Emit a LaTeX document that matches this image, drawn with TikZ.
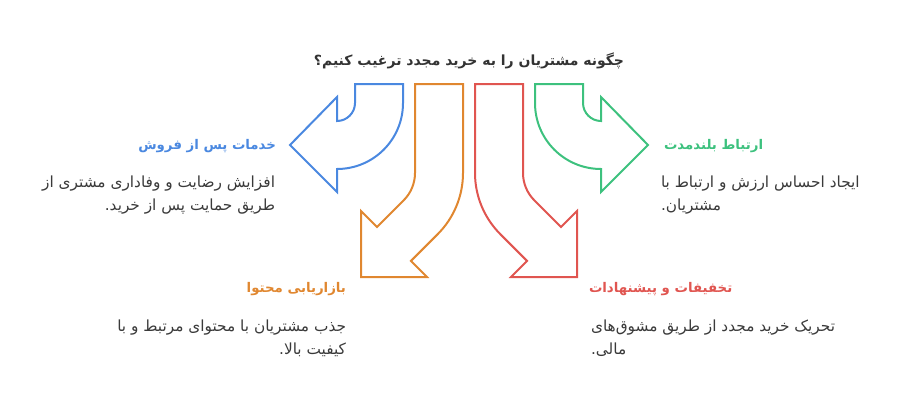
\documentclass[tikz,border=0pt]{standalone}
\usepackage{fontspec}
\usepackage{xcolor}
\usepackage{tikz}
\TeXXeTstate=1
\newfontfamily\farsi[Script=Arabic]{DejaVu Sans}
\definecolor{cblue}{RGB}{74,136,224}
\definecolor{corange}{RGB}{224,135,48}
\definecolor{cred}{RGB}{224,85,80}
\definecolor{cgreen}{RGB}{61,193,126}
\definecolor{ctext}{RGB}{58,58,58}

\begin{document}
\begin{tikzpicture}[
    x = 0.75pt, y = -0.75pt, line width = 1.5pt,
    hd/.style ={font = \farsi\bfseries\fontsize{10}{12}\selectfont, inner sep = 0pt},
    bd/.style ={font = \farsi\fontsize{11.5}{17.5}\selectfont, text = ctext, inner sep = 0pt}
    ]
\useasboundingbox (0, 0) rectangle (902, 410);

% title
\node (T) at (469, 61) [hd, text = black!80, font = \farsi\bfseries\fontsize{10.5}{12}\selectfont]
    {\beginR چگونه مشتریان را به خرید مجدد ترغیب کنیم؟\endR};

% arrows
\draw [cblue] (355, 84) -- (403, 84) -- (403, 103)
    .. controls (403, 139.5) and (373.5, 169) .. (337, 169) -- (337, 192) -- (290, 145)
    -- (337, 97) -- (337, 121) .. controls (346.9, 121) and (355, 112.9) .. (355, 103) -- cycle;
\draw [cgreen] (583, 84) -- (535, 84) -- (535, 103)
    .. controls (535, 139.5) and (564.5, 169) .. (601, 169) -- (601, 192) -- (648, 145)
    -- (601, 97) -- (601, 121) .. controls (591.1, 121) and (583, 112.9) .. (583, 103) -- cycle;
\draw [corange] (415, 84) -- (415, 173)
    .. controls (415, 183.24) and (410.94, 193.06) .. (403.69, 200.29) -- (376.99, 226.99)
    -- (361, 211) -- (361, 277) -- (427, 277) -- (410.93, 260.93) -- (437.63, 234.23)
    .. controls (453.87, 217.99) and (463, 195.97) .. (463, 173) -- (463, 84) -- cycle;
\draw [cred] (523, 84) -- (523, 173)
    .. controls (523, 183.24) and (527.06, 193.06) .. (534.31, 200.29) -- (561.01, 226.99)
    -- (577, 211) -- (577, 277) -- (511, 277) -- (527.07, 260.93) -- (500.37, 234.23)
    .. controls (484.13, 217.99) and (475, 195.97) .. (475, 173) -- (475, 84) -- cycle;

% headings
\node (BH) at (277, 146) [hd, anchor = east, text = cblue]   {\beginR خدمات پس از فروش\endR};
\node (GH) at (663, 146) [hd, anchor = west, text = cgreen]  {\beginR ارتباط بلندمدت\endR};
\node (OH) at (347, 289) [hd, anchor = east, text = corange] {\beginR بازاریابی محتوا\endR};
\node (RH) at (588, 289) [hd, anchor = west, text = cred]    {\beginR تخفیفات و پیشنهادات\endR};

% texts
\node (BB) at (276, 175) [bd, anchor = north east, align = right]
    {\beginR افزایش رضایت و وفاداری مشتری از\endR\\\beginR طریق حمایت پس از خرید.\endR};
\node (GB) at (660, 175) [bd, anchor = north west, align = left]
    {\beginR ایجاد احساس ارزش و ارتباط با\endR\\\beginR مشتریان.\endR};
\node (OB) at (347, 319) [bd, anchor = north east, align = right]
    {\beginR جذب مشتریان با محتوای مرتبط و با\endR\\\beginR کیفیت بالا.\endR};
\node (RB) at (590, 319) [bd, anchor = north west, align = left]
    {\beginR تحریک خرید مجدد از طریق مشوق‌های\endR\\\beginR مالی.\endR};
\end{tikzpicture}
\end{document}
